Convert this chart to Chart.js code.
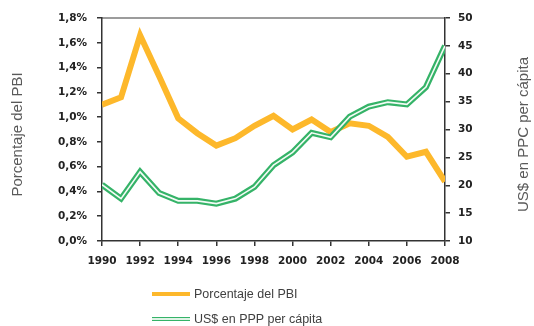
<!DOCTYPE html>
<html lang="es">
<head>
<meta charset="UTF-8">
<script src="https://cdn.jsdelivr.net/npm/chart.js"></script>
<title>Gasto en I+D</title>
<style>
    html, body { margin: 0; padding: 0; background: #fff; }
    #wrap { position: relative; width: 534px; height: 326px; }
    .leg { position: absolute; left: 152px; font: 12.5px "Liberation Sans", Arial, sans-serif; color: #404040; display: flex; align-items: center; }
    .leg span.sw { display: inline-block; width: 38px; margin-right: 4px; }
    #leg1 { top: 287px; }
    #leg2 { top: 312px; }
    #leg1 .sw { height: 4px; background: #fdb82b; }
    #leg2 .sw { height: 2px; background: #dff3e6; border-top: 1.5px solid #35b368; border-bottom: 1.5px solid #35b368; }
</style>
<script>
    // años de la serie
    let anios = [1990, 1991, 1992, 1993, 1994, 1995, 1996, 1997, 1998, 1999,
                 2000, 2001, 2002, 2003, 2004, 2005, 2006, 2007, 2008];
    // gasto como porcentaje del PBI (%)
    let pbi = [1.10, 1.16, 1.66, 1.33, 0.99, 0.87, 0.77, 0.83, 0.93, 1.01,
               0.90, 0.98, 0.88, 0.95, 0.93, 0.84, 0.68, 0.72, 0.48];
    // gasto en US$ PPP per cápita
    let usd = [20.1, 17.6, 22.4, 18.6, 17.2, 17.2, 16.7, 17.6, 19.7, 23.6,
               25.9, 29.4, 28.6, 32.3, 34.1, 34.9, 34.5, 37.6, 45.0];
    let tituloIzq = 'Porcentaje del PBI';
    let tituloDer = 'US$ en PPC per cápita';

    function puntos(vals) {
        return anios.map(function (a, i) { return { x: a, y: vals[i] }; });
    }

    // marco superior y titulos verticales de los ejes
    let marco = {
        id: 'marco',
        afterDraw: function (chart) {
            let c = chart.ctx;
            let a = chart.chartArea;
            c.save();
            c.strokeStyle = '#3a3a3a';
            c.lineWidth = 1.2;
            c.beginPath();
            c.moveTo(a.left, a.top);
            c.lineTo(a.right, a.top);
            c.stroke();
            c.fillStyle = '#5a5a5a';
            c.font = '15px "Liberation Sans", Arial, sans-serif';
            c.textAlign = 'center';
            c.textBaseline = 'middle';
            let cy = (a.top + a.bottom) / 2 + 5;
            c.translate(18, cy);
            c.rotate(-Math.PI / 2);
            c.fillText(tituloIzq, 0, 0);
            c.restore();
            c.save();
            c.fillStyle = '#5a5a5a';
            c.font = '15px "Liberation Sans", Arial, sans-serif';
            c.textAlign = 'center';
            c.textBaseline = 'middle';
            c.translate(524, cy);
            c.rotate(-Math.PI / 2);
            c.fillText(tituloDer, 0, 0);
            c.restore();
        }
    };

    window.onload = function () {
        let tickFont = { family: '"DejaVu Sans", Verdana, sans-serif', size: 10.5, weight: 'bold' };
        let ejeBorde = { color: '#333', width: 1.5 };
        let rejilla = { drawOnChartArea: false, drawTicks: true, tickLength: 5, color: '#333', lineWidth: 1.5 };
        new Chart(document.getElementById('grafico'), {
            type: 'line',
            data: {
                datasets: [
                    { data: puntos(usd), yAxisID: 'y1', borderColor: '#f4fbf6', borderWidth: 1.6, order: 0 },
                    { data: puntos(usd), yAxisID: 'y1', borderColor: '#35b368', borderWidth: 6, order: 1 },
                    { data: puntos(pbi), yAxisID: 'y', borderColor: '#fdb82b', borderWidth: 6, order: 2 }
                ]
            },
            options: {
                responsive: false,
                animation: false,
                events: [],
                layout: { padding: { top: 18, bottom: 55, left: 0, right: 0 } },
                elements: {
                    point: { radius: 0 },
                    line: { tension: 0, borderJoinStyle: 'miter', borderCapStyle: 'butt' }
                },
                plugins: { legend: { display: false }, tooltip: { enabled: false } },
                scales: {
                    x: {
                        type: 'linear', min: 1990, max: 2008,
                        border: ejeBorde, grid: rejilla,
                        ticks: { stepSize: 2, color: '#222', font: tickFont, padding: 9,
                                 maxRotation: 0, callback: function (v) { return String(v); } },
                        afterFit: function (s) { s.height = 30; }
                    },
                    y: {
                        position: 'left', min: 0, max: 1.8,
                        border: ejeBorde, grid: rejilla,
                        ticks: { stepSize: 0.2, color: '#222', font: tickFont, padding: 10,
                                 callback: function (v) { return v.toFixed(1).replace('.', ',') + '%'; } },
                        afterFit: function (s) { s.width = 102; }
                    },
                    y1: {
                        position: 'right', min: 10, max: 50,
                        border: ejeBorde, grid: rejilla,
                        ticks: { stepSize: 5, color: '#222', font: tickFont, padding: 8 },
                        afterFit: function (s) { s.width = 89; }
                    }
                }
            },
            plugins: [marco]
        });
    };
</script>
</head>
<body>
<div id="wrap">
    <canvas id="grafico" width="534" height="326"></canvas>
    <div class="leg" id="leg1"><span class="sw"></span>Porcentaje del PBI</div>
    <div class="leg" id="leg2"><span class="sw"></span>US$ en PPP per cápita</div>
</div>
</body>
</html>
